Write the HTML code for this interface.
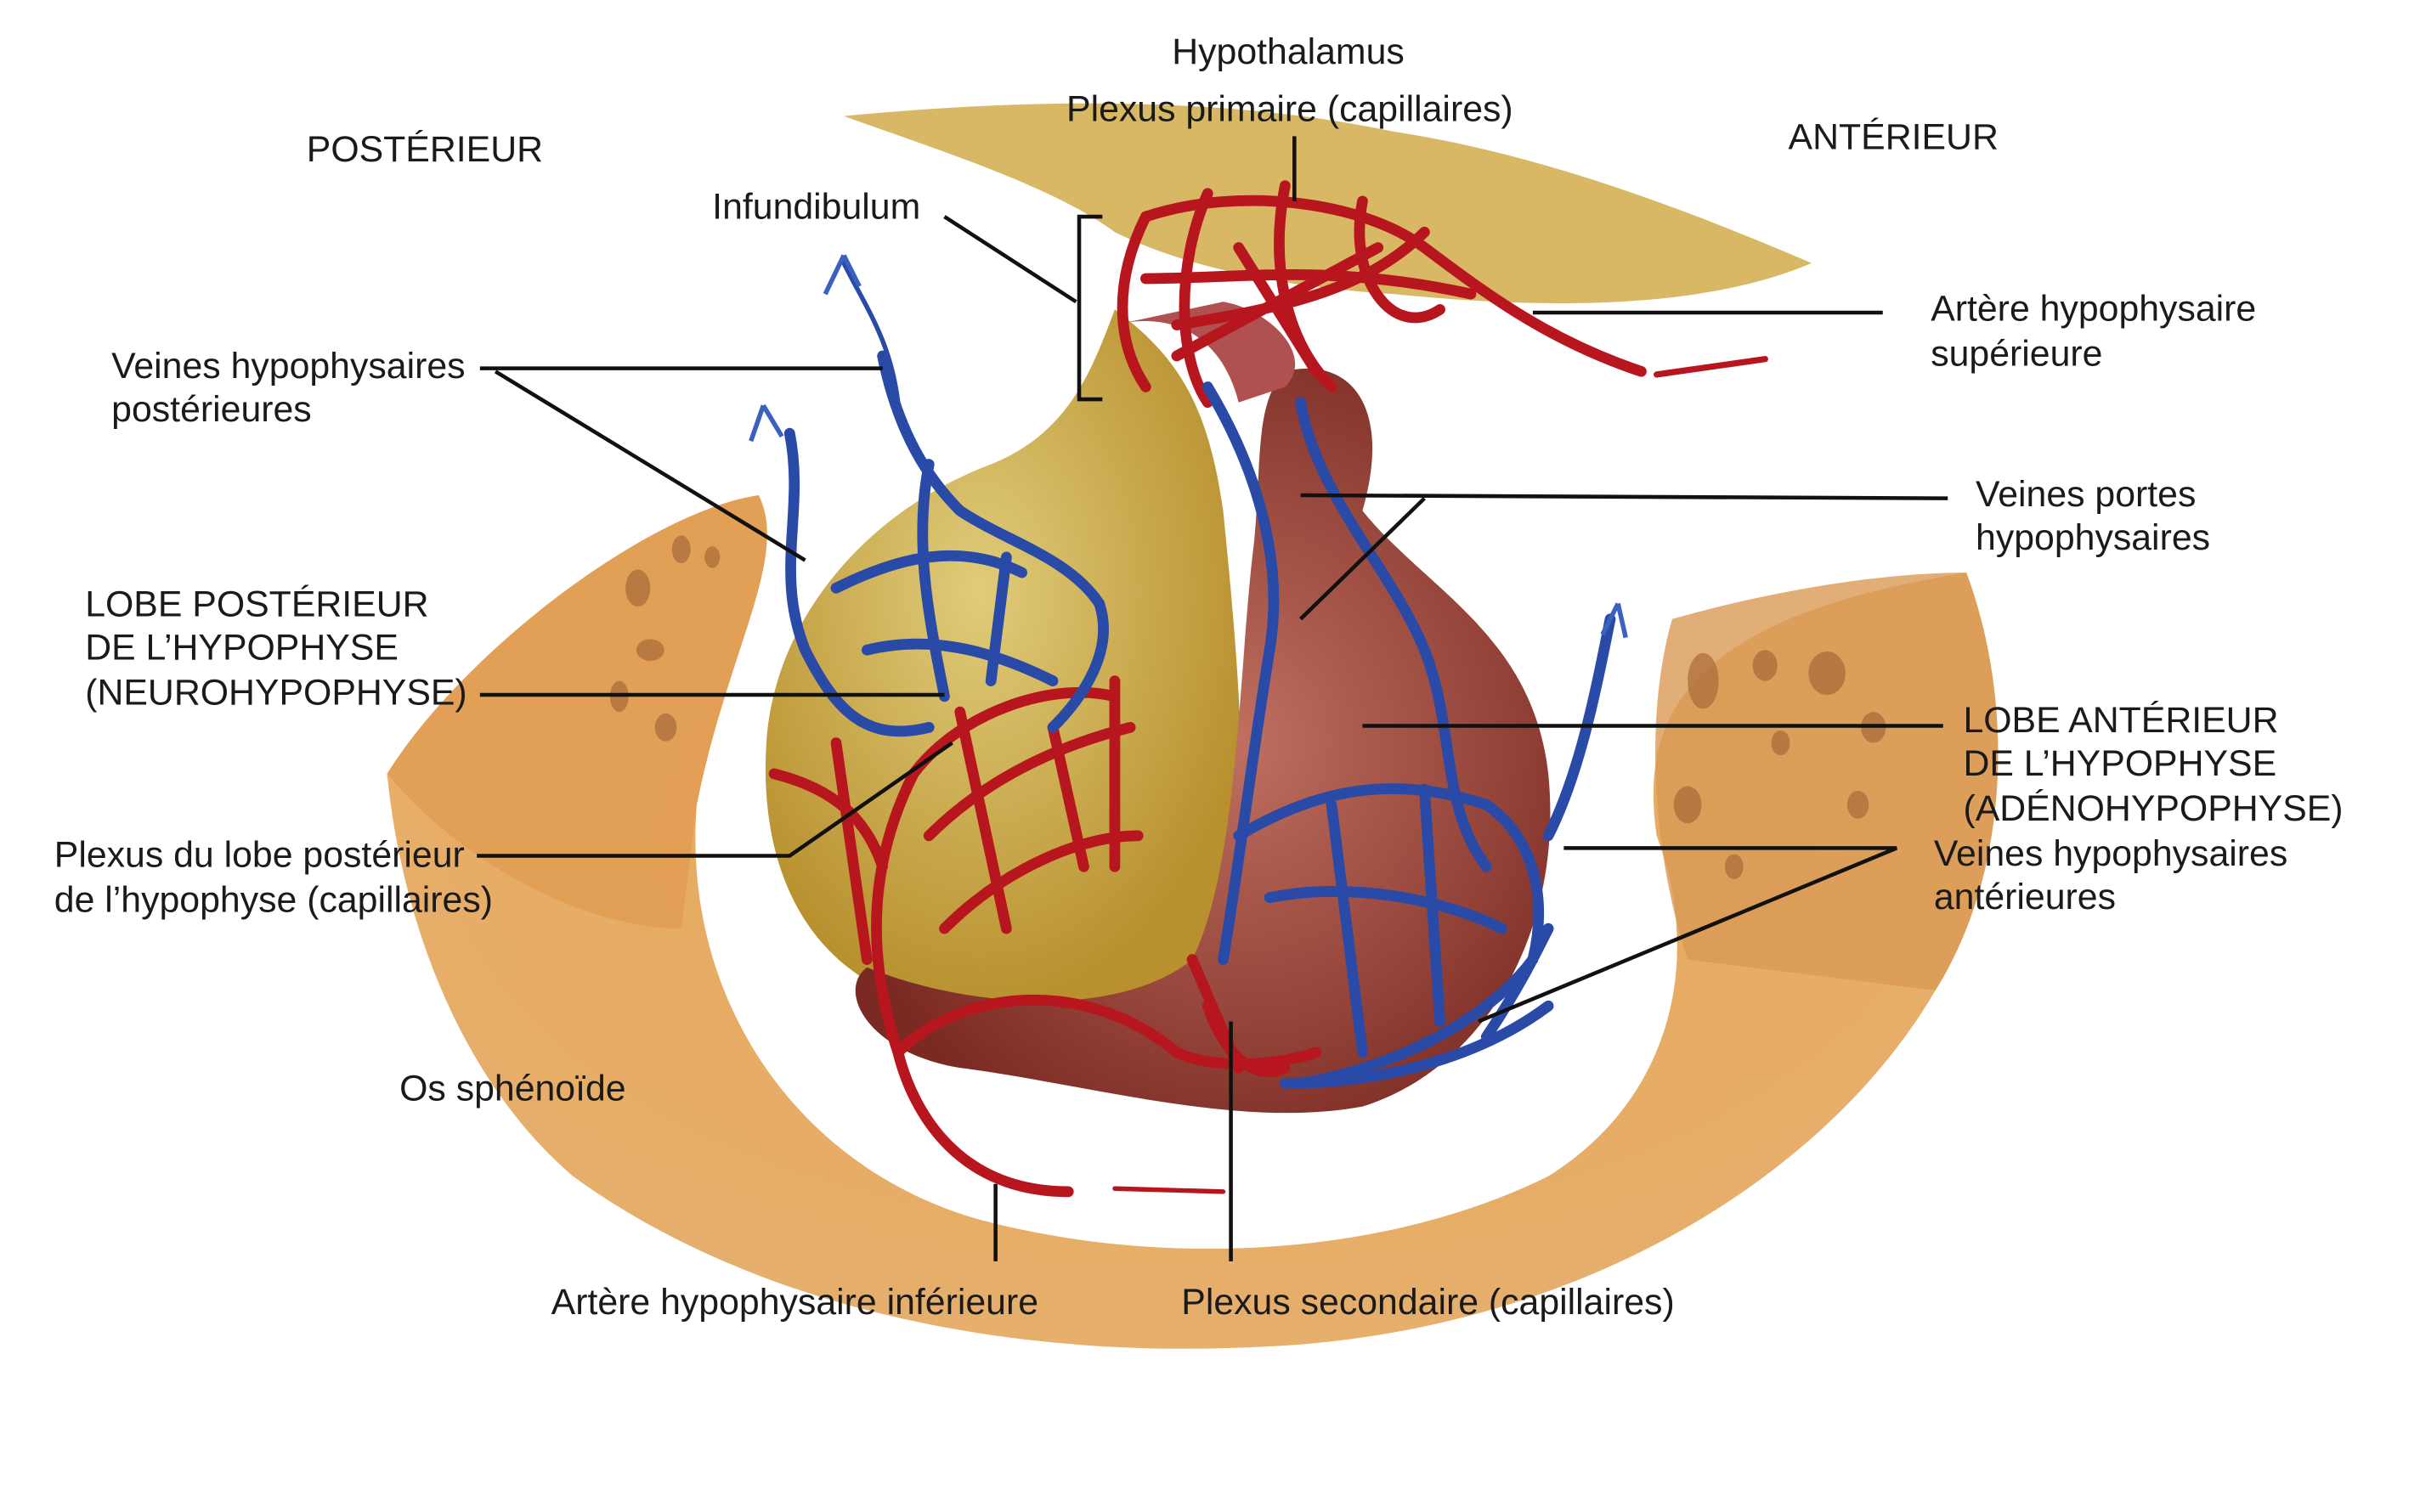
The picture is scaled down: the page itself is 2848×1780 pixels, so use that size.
<!DOCTYPE html>
<html><head><meta charset="utf-8"><style>
html,body{margin:0;padding:0;background:#fff}
svg{display:block}
text{font-family:"Liberation Sans",Arial,sans-serif;font-size:23.5px;fill:#1a1a1a;dominant-baseline:middle}
</style></head><body>
<svg width="2848" height="1780" viewBox="0 0 1563 977" preserveAspectRatio="none" xmlns="http://www.w3.org/2000/svg">
<defs>
<radialGradient id="bone" cx="50%" cy="40%" r="70%"><stop offset="0" stop-color="#e8a858"/><stop offset="1" stop-color="#e6b070"/></radialGradient>
<radialGradient id="post" cx="45%" cy="40%" r="60%"><stop offset="0" stop-color="#e0cc7a"/><stop offset="1" stop-color="#b8902e"/></radialGradient>
<radialGradient id="ant" cx="55%" cy="50%" r="60%"><stop offset="0" stop-color="#c07060"/><stop offset="1" stop-color="#7a2a22"/></radialGradient>
</defs>
<rect width="1563" height="977" fill="#fff"/>
<path d="M250,500 C300,420 420,330 490,320 C510,360 470,420 450,520 C440,650 520,760 640,790 C760,820 900,810 1000,760 C1080,710 1100,620 1070,540 C1060,470 1080,400 1270,370 C1300,450 1300,560 1250,640 C1180,760 1020,860 820,870 C640,880 480,840 370,760 C300,700 260,600 250,500 Z" fill="url(#bone)"/>
<path d="M250,500 C300,420 420,330 490,320 C510,360 470,420 450,520 L440,600 C380,600 300,560 250,500Z" fill="#e09a50" opacity="0.7"/>
<path d="M1270,370 C1300,450 1300,560 1250,640 L1090,620 C1070,560 1060,470 1080,400 C1150,380 1220,370 1270,370Z" fill="#d99a55" opacity="0.8"/>
<g fill="#a86a3a" opacity="0.7">
<ellipse cx="412" cy="380" rx="8" ry="12"/><ellipse cx="440" cy="355" rx="6" ry="9"/><ellipse cx="420" cy="420" rx="9" ry="7"/><ellipse cx="400" cy="450" rx="6" ry="10"/><ellipse cx="430" cy="470" rx="7" ry="9"/><ellipse cx="460" cy="360" rx="5" ry="7"/>
<ellipse cx="1100" cy="440" rx="10" ry="18"/><ellipse cx="1140" cy="430" rx="8" ry="10"/><ellipse cx="1180" cy="435" rx="12" ry="14"/><ellipse cx="1210" cy="470" rx="8" ry="10"/><ellipse cx="1150" cy="480" rx="6" ry="8"/><ellipse cx="1090" cy="520" rx="9" ry="12"/><ellipse cx="1200" cy="520" rx="7" ry="9"/><ellipse cx="1120" cy="560" rx="6" ry="8"/>
</g>
<path d="M545,75 C650,65 780,60 900,85 C1000,100 1100,140 1170,170 C1100,200 1000,200 900,190 C820,185 760,170 720,150 C680,120 600,95 545,75Z" fill="#d8b864"/>
<path d="M720,200 C760,230 780,260 790,330 C800,430 810,540 790,600 C770,660 680,660 600,650 C520,630 490,560 495,480 C500,400 560,330 640,300 C690,280 705,240 720,200Z" fill="url(#post)"/>
<path d="M830,240 C870,230 900,260 880,330 C920,380 990,410 1000,500 C1010,600 960,690 880,715 C800,730 700,700 620,690 C560,680 540,640 560,625 C620,650 720,660 770,620 C800,560 800,430 810,350 C815,300 810,260 830,240Z" fill="url(#ant)"/>
<path d="M720,210 C760,200 790,220 800,260 L830,250 C850,230 820,200 790,195Z" fill="#b05050"/>
<g fill="none" stroke="#b8161e" stroke-width="7" stroke-linecap="round">
<path d="M1060,240 C1000,220 960,190 920,160 C880,130 800,120 740,140"/>
<path d="M740,140 C720,180 720,220 740,250 M780,125 C760,170 760,230 780,260 M830,120 C820,170 830,220 860,250 M880,130 C870,180 900,220 930,200 M920,150 C880,190 820,200 760,210 M740,180 C800,180 860,170 950,190 M800,160 L850,240 M760,230 L890,160"/>
<path d="M1140,232 L1070,242" stroke-width="4"/>
<path d="M690,770 C620,770 590,720 580,680 C560,620 560,560 590,500 C620,460 680,440 720,450 M580,680 C620,640 700,630 760,680 C780,690 820,690 850,680"/>
<path d="M600,540 C640,500 690,480 730,470 M610,600 C650,560 700,540 735,540 M620,460 L650,600 M680,470 L700,560 M720,440 L720,560 M500,500 C540,510 560,530 570,560 M540,480 L560,620"/>
<path d="M780,650 C790,680 810,700 830,690 M770,620 L800,690"/>
<path d="M790,770 L720,768" stroke-width="3"/>
</g>
<g fill="none" stroke="#2a4aa8" stroke-width="7" stroke-linecap="round">
<path d="M570,230 C580,280 600,310 620,330 C650,350 690,360 710,390 C720,420 700,450 680,470"/>
<path d="M510,280 C520,330 500,370 520,420 C540,460 560,480 600,470 M540,380 C580,360 620,350 660,370 M560,420 C600,410 640,420 680,440 M600,300 C590,350 600,400 610,450 M650,360 L640,440"/>
<path d="M545,170 C560,200 575,220 580,260" stroke-width="3"/>
<path d="M780,250 C810,300 830,360 820,420 C810,480 800,560 790,620"/>
<path d="M840,260 C850,320 900,370 920,420 C940,470 930,520 960,560"/>
<path d="M800,540 C850,510 900,500 960,520 C990,540 1000,580 990,620 C960,660 900,690 840,700 M830,700 C900,700 960,680 1000,650 M820,580 C870,570 930,580 970,600 M860,520 L880,680 M920,510 L930,660 M1000,540 C1020,500 1030,450 1040,400 M960,670 C980,640 990,620 1000,600"/>
</g>
<path d="M545,165 L533,190 M545,165 L555,185" stroke="#3a60c0" stroke-width="3"/>
<path d="M493,262 L485,285 M493,262 L505,282" stroke="#3a60c0" stroke-width="3"/>
<path d="M1045,390 L1035,410 M1045,390 L1050,412" stroke="#3a60c0" stroke-width="3"/>
<g stroke="#111" stroke-width="2.5" fill="none">
<path d="M836,88 L836,130"/>
<path d="M610,140 L695,195"/>
<path d="M712,140 L697,140 L697,258 L712,258"/>
<path d="M990,202 L1216,202"/>
<path d="M310,238 L570,238 M320,240 L520,362"/>
<path d="M840,320 L1258,322 M920,322 L840,400"/>
<path d="M310,449 L610,449"/>
<path d="M880,469 L1255,469"/>
<path d="M1010,548 L1225,548 L955,660"/>
<path d="M308,553 L510,553 L615,480"/>
<path d="M643,765 L643,815"/>
<path d="M795,660 L795,815"/>
</g>
<text x="832" y="35" text-anchor="middle">Hypothalamus</text>
<text x="833" y="72" text-anchor="middle">Plexus primaire (capillaires)</text>
<text x="198" y="98">POSTÉRIEUR</text>
<text x="1155" y="90">ANTÉRIEUR</text>
<text x="460" y="135">Infundibulum</text>
<text x="1247" y="201">Artère hypophysaire</text>
<text x="1247" y="230">supérieure</text>
<text x="72" y="238">Veines hypophysaires</text>
<text x="72" y="266">postérieures</text>
<text x="1276" y="321">Veines portes</text>
<text x="1276" y="349">hypophysaires</text>
<text x="55" y="392">LOBE POSTÉRIEUR</text>
<text x="55" y="420">DE L’HYPOPHYSE</text>
<text x="55" y="449">(NEUROHYPOPHYSE)</text>
<text x="1268" y="467">LOBE ANTÉRIEUR</text>
<text x="1268" y="495">DE L’HYPOPHYSE</text>
<text x="1268" y="524">(ADÉNOHYPOPHYSE)</text>
<text x="1249" y="553">Veines hypophysaires</text>
<text x="1249" y="581">antérieures</text>
<text x="35" y="554">Plexus du lobe postérieur</text>
<text x="35" y="583">de l’hypophyse (capillaires)</text>
<text x="258" y="705">Os sphénoïde</text>
<text x="356" y="843">Artère hypophysaire inférieure</text>
<text x="763" y="843">Plexus secondaire (capillaires)</text>
</svg>
</body></html>
